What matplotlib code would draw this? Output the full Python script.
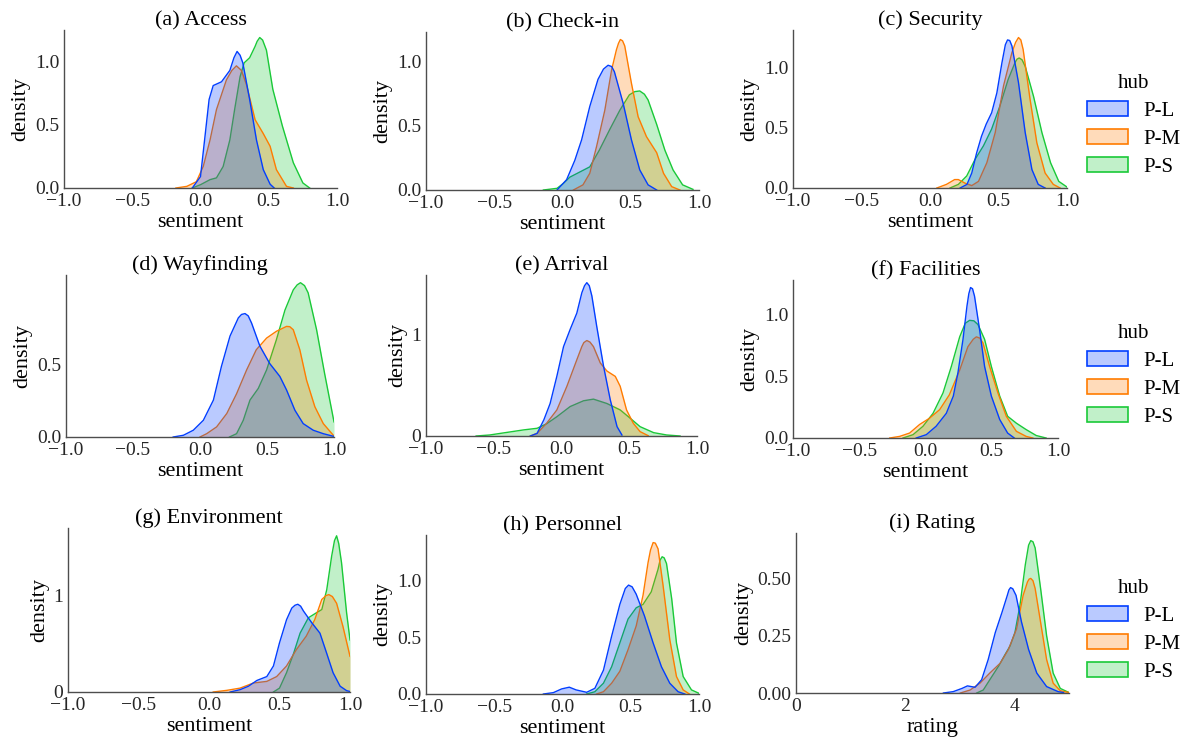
import numpy as np
import matplotlib
matplotlib.use("Agg")
import matplotlib.pyplot as plt
from matplotlib.colors import to_rgba
from matplotlib.patches import Patch

plt.rcParams['font.family'] = ['Liberation Serif', 'DejaVu Serif']
plt.rcParams['font.size'] = 14

####################### data
hubs = ["P-L", "P-M", "P-S"]
colors = ["#023eff", "#ff7c00", "#1ac938"]

titles = ["(a) Access", "(b) Check-in", "(c) Security",
          "(d) Wayfinding", "(e) Arrival", "(f) Facilities",
          "(g) Environment", "(h) Personnel", "(i) Rating"]

# each panel: hub -> (x, density)
access = {
    "P-L": ([-0.06, 0.0, 0.03, 0.063, 0.093, 0.154, 0.215, 0.245, 0.268, 0.29, 0.31, 0.36, 0.41, 0.46, 0.51, 0.54],
            [0.0, 0.09, 0.38, 0.70, 0.81, 0.84, 0.93, 1.03, 1.08, 1.05, 0.99, 0.70, 0.38, 0.145, 0.03, 0.0]),
    "P-M": ([-0.18, -0.10, -0.03, 0.02, 0.07, 0.117, 0.19, 0.23, 0.263, 0.30, 0.337, 0.40, 0.46, 0.51, 0.556, 0.63, 0.68],
            [0.0, 0.013, 0.05, 0.17, 0.38, 0.62, 0.855, 0.93, 0.966, 0.93, 0.816, 0.54, 0.43, 0.33, 0.145, 0.013, 0.0]),
    "P-S": ([-0.06, 0.0, 0.07, 0.117, 0.166, 0.215, 0.25, 0.29, 0.32, 0.36, 0.40, 0.415, 0.434, 0.455, 0.483, 0.53, 0.60, 0.68, 0.75, 0.80],
            [0.0, 0.026, 0.066, 0.08, 0.17, 0.38, 0.62, 0.88, 0.99, 1.03, 1.12, 1.16, 1.19, 1.17, 1.09, 0.78, 0.49, 0.20, 0.04, 0.0]),
}
checkin = {
    "P-L": ([-0.04, 0.03, 0.09, 0.14, 0.20, 0.26, 0.30, 0.334, 0.36, 0.38, 0.444, 0.505, 0.566, 0.627, 0.69],
            [0.0, 0.08, 0.23, 0.39, 0.65, 0.86, 0.94, 0.97, 0.96, 0.92, 0.675, 0.39, 0.156, 0.04, 0.0]),
    "P-M": ([0.08, 0.15, 0.20, 0.25, 0.31, 0.36, 0.395, 0.41, 0.424, 0.44, 0.456, 0.505, 0.554, 0.615, 0.69, 0.74, 0.80, 0.86],
            [0.0, 0.04, 0.13, 0.34, 0.62, 0.935, 1.09, 1.14, 1.17, 1.16, 1.12, 0.83, 0.57, 0.415, 0.29, 0.13, 0.026, 0.0]),
    "P-S": ([-0.14, -0.04, 0.005, 0.054, 0.127, 0.20, 0.27, 0.346, 0.42, 0.49, 0.53, 0.566, 0.60, 0.627, 0.69, 0.75, 0.81, 0.88, 0.956],
            [0.0, 0.013, 0.05, 0.10, 0.14, 0.18, 0.31, 0.47, 0.62, 0.74, 0.765, 0.77, 0.745, 0.70, 0.51, 0.31, 0.156, 0.04, 0.005]),
}
security = {
    "P-L": ([0.22, 0.27, 0.305, 0.34, 0.376, 0.41, 0.45, 0.488, 0.525, 0.55, 0.566, 0.582, 0.598, 0.646, 0.695, 0.744, 0.79, 0.84],
            [0.0, 0.03, 0.125, 0.29, 0.43, 0.53, 0.625, 0.79, 1.04, 1.19, 1.23, 1.225, 1.18, 0.875, 0.46, 0.153, 0.03, 0.0]),
    "P-M": ([0.05, 0.12, 0.18, 0.207, 0.256, 0.305, 0.354, 0.415, 0.476, 0.537, 0.598, 0.625, 0.646, 0.663, 0.68, 0.73, 0.78, 0.84, 0.90, 0.95],
            [0.0, 0.03, 0.07, 0.07, 0.04, 0.02, 0.055, 0.21, 0.46, 0.85, 1.125, 1.21, 1.25, 1.23, 1.15, 0.74, 0.375, 0.125, 0.03, 0.0]),
    "P-S": ([0.146, 0.207, 0.268, 0.33, 0.39, 0.45, 0.51, 0.57, 0.62, 0.635, 0.651, 0.672, 0.695, 0.756, 0.817, 0.88, 0.94, 1.0],
            [0.0, 0.03, 0.10, 0.24, 0.35, 0.49, 0.68, 0.90, 1.04, 1.07, 1.08, 1.065, 1.01, 0.76, 0.46, 0.21, 0.055, 0.008]),
}
wayfinding = {
    "P-L": ([-0.2, -0.124, -0.05, 0.025, 0.10, 0.16, 0.224, 0.286, 0.31, 0.336, 0.36, 0.385, 0.447, 0.52, 0.596, 0.646, 0.708, 0.77, 0.845, 0.92, 0.995],
            [0.0, 0.012, 0.047, 0.116, 0.256, 0.49, 0.70, 0.826, 0.85, 0.856, 0.84, 0.79, 0.63, 0.51, 0.42, 0.326, 0.186, 0.093, 0.047, 0.023, 0.005]),
    "P-M": ([0.0, 0.05, 0.124, 0.2, 0.273, 0.348, 0.42, 0.497, 0.57, 0.646, 0.67, 0.696, 0.745, 0.795, 0.857, 0.92, 0.995],
            [0.0, 0.023, 0.07, 0.163, 0.30, 0.465, 0.605, 0.686, 0.733, 0.767, 0.765, 0.744, 0.605, 0.395, 0.21, 0.093, 0.012]),
    "P-S": ([0.22, 0.273, 0.323, 0.373, 0.435, 0.497, 0.57, 0.634, 0.696, 0.725, 0.75, 0.78, 0.807, 0.87, 0.93, 1.0],
            [0.0, 0.023, 0.116, 0.256, 0.337, 0.465, 0.674, 0.88, 1.02, 1.055, 1.07, 1.05, 1.0, 0.744, 0.44, 0.105]),
}
arrival = {
    "P-L": ([-0.23, -0.18, -0.13, -0.084, -0.034, 0.015, 0.064, 0.113, 0.15, 0.17, 0.187, 0.205, 0.224, 0.26, 0.31, 0.36, 0.41, 0.446],
            [0.0, 0.026, 0.16, 0.32, 0.59, 0.88, 1.05, 1.21, 1.41, 1.48, 1.51, 1.48, 1.38, 1.08, 0.69, 0.356, 0.092, 0.01]),
    "P-M": ([-0.23, -0.18, -0.11, -0.034, 0.04, 0.113, 0.15, 0.165, 0.187, 0.21, 0.236, 0.286, 0.335, 0.397, 0.433, 0.48, 0.53, 0.58, 0.64],
            [0.0, 0.026, 0.125, 0.257, 0.49, 0.75, 0.88, 0.92, 0.94, 0.925, 0.88, 0.72, 0.64, 0.587, 0.49, 0.257, 0.125, 0.043, 0.003]),
    "P-S": ([-0.63, -0.53, -0.40, -0.28, -0.18, -0.11, -0.034, 0.064, 0.163, 0.236, 0.335, 0.433, 0.507, 0.58, 0.68, 0.776, 0.875],
            [0.0, 0.01, 0.036, 0.06, 0.076, 0.12, 0.19, 0.29, 0.347, 0.363, 0.32, 0.257, 0.175, 0.092, 0.033, 0.01, 0.0]),
}
facilities = {
    "P-L": ([-0.07, 0.006, 0.08, 0.157, 0.21, 0.245, 0.283, 0.313, 0.327, 0.34, 0.355, 0.37, 0.408, 0.446, 0.497, 0.56, 0.62, 0.67],
            [0.0, 0.027, 0.095, 0.2, 0.34, 0.53, 0.80, 1.07, 1.17, 1.22, 1.21, 1.15, 0.88, 0.58, 0.34, 0.15, 0.04, 0.0]),
    "P-M": ([-0.27, -0.195, -0.12, -0.044, 0.03, 0.107, 0.18, 0.258, 0.32, 0.36, 0.384, 0.41, 0.434, 0.484, 0.547, 0.61, 0.686, 0.76, 0.81],
            [0.0, 0.013, 0.04, 0.11, 0.16, 0.23, 0.35, 0.55, 0.74, 0.80, 0.82, 0.81, 0.77, 0.58, 0.365, 0.176, 0.054, 0.013, 0.0]),
    "P-S": ([-0.17, -0.094, -0.019, 0.057, 0.132, 0.195, 0.258, 0.30, 0.333, 0.365, 0.396, 0.446, 0.497, 0.56, 0.62, 0.686, 0.76, 0.836, 0.91],
            [0.0, 0.027, 0.095, 0.2, 0.365, 0.58, 0.82, 0.93, 0.954, 0.95, 0.92, 0.80, 0.58, 0.34, 0.176, 0.12, 0.068, 0.02, 0.0]),
}
environment = {
    "P-L": ([0.15, 0.22, 0.28, 0.34, 0.41, 0.457, 0.50, 0.55, 0.587, 0.61, 0.63, 0.65, 0.67, 0.728, 0.787, 0.835, 0.88, 0.93, 0.976, 1.0],
            [0.0, 0.024, 0.06, 0.12, 0.16, 0.27, 0.51, 0.75, 0.87, 0.90, 0.91, 0.89, 0.84, 0.72, 0.61, 0.40, 0.20, 0.06, 0.014, 0.005]),
    "P-M": ([0.03, 0.126, 0.22, 0.315, 0.41, 0.48, 0.55, 0.62, 0.69, 0.75, 0.80, 0.83, 0.85, 0.875, 0.905, 0.95, 1.0],
            [0.0, 0.017, 0.04, 0.093, 0.11, 0.16, 0.27, 0.44, 0.58, 0.75, 0.96, 1.0, 1.01, 0.99, 0.92, 0.68, 0.37]),
    "P-S": ([0.457, 0.50, 0.55, 0.60, 0.646, 0.705, 0.76, 0.80, 0.835, 0.87, 0.89, 0.905, 0.92, 0.94, 0.976, 1.0],
            [0.0, 0.04, 0.2, 0.40, 0.61, 0.77, 0.82, 0.855, 1.06, 1.41, 1.57, 1.62, 1.54, 1.34, 0.82, 0.54]),
}
personnel = {
    "P-L": ([-0.14, -0.067, -0.006, 0.05, 0.10, 0.177, 0.237, 0.30, 0.36, 0.42, 0.46, 0.484, 0.51, 0.54, 0.60, 0.664, 0.725, 0.786, 0.847, 0.896],
            [0.0, 0.012, 0.045, 0.06, 0.036, 0.015, 0.05, 0.21, 0.51, 0.79, 0.93, 0.96, 0.945, 0.88, 0.69, 0.45, 0.24, 0.095, 0.02, 0.0]),
    "P-M": ([0.25, 0.30, 0.36, 0.42, 0.48, 0.54, 0.59, 0.627, 0.645, 0.664, 0.68, 0.70, 0.737, 0.786, 0.835, 0.884, 0.93],
            [0.0, 0.02, 0.095, 0.2, 0.39, 0.60, 0.87, 1.16, 1.27, 1.335, 1.33, 1.28, 0.955, 0.48, 0.154, 0.036, 0.0]),
    "P-S": ([0.177, 0.237, 0.30, 0.36, 0.42, 0.48, 0.54, 0.59, 0.65, 0.70, 0.715, 0.73, 0.745, 0.762, 0.80, 0.835, 0.884, 0.945, 1.0],
            [0.0, 0.02, 0.095, 0.24, 0.45, 0.66, 0.76, 0.79, 0.90, 1.10, 1.18, 1.21, 1.20, 1.15, 0.84, 0.45, 0.154, 0.036, 0.006]),
}
rating = {
    "P-L": ([2.70, 2.88, 3.04, 3.14, 3.28, 3.40, 3.52, 3.65, 3.77, 3.87, 3.90, 3.93, 3.97, 4.03, 4.13, 4.26, 4.41, 4.59, 4.80, 4.90],
            [0.0, 0.006, 0.02, 0.031, 0.025, 0.058, 0.146, 0.264, 0.35, 0.426, 0.45, 0.46, 0.455, 0.426, 0.31, 0.19, 0.087, 0.028, 0.006, 0.002]),
    "P-M": ([3.01, 3.19, 3.37, 3.55, 3.74, 3.89, 4.04, 4.16, 4.24, 4.27, 4.30, 4.34, 4.38, 4.47, 4.59, 4.71, 4.84, 5.0],
            [0.0, 0.013, 0.043, 0.087, 0.13, 0.19, 0.28, 0.426, 0.485, 0.497, 0.50, 0.49, 0.456, 0.323, 0.146, 0.043, 0.01, 0.002]),
    "P-S": ([3.31, 3.43, 3.55, 3.71, 3.83, 3.92, 4.01, 4.10, 4.20, 4.26, 4.30, 4.34, 4.38, 4.48, 4.59, 4.71, 4.84, 5.0],
            [0.0, 0.013, 0.058, 0.117, 0.168, 0.205, 0.264, 0.38, 0.56, 0.645, 0.665, 0.66, 0.633, 0.456, 0.25, 0.087, 0.02, 0.002]),
}
panels = [access, checkin, security, wayfinding, arrival, facilities, environment, personnel, rating]

sent_ticks = [-1.0, -0.5, 0.0, 0.5, 1.0]
rating_ticks = [0, 2, 4]
yticks = [[0, 0.5, 1.0], [0, 0.5, 1.0], [0, 0.5, 1.0],
          [0, 0.5], [0, 1], [0, 0.5, 1.0],
          [0, 1], [0, 0.5, 1.0], [0, 0.25, 0.5]]

####################### layout (pixels: left, right, bottom from top)
W, H = 1192, 746
boxes = [(64, 337, 188), (426, 699, 190), (793, 1067, 188),
         (66, 334, 437), (426, 697, 436), (793, 1058, 438),
         (68, 350, 692), (426, 699, 694), (796, 1069, 693)]
tops = [30, 32, 30, 275, 275, 280, 528, 535, 533]

fig = plt.figure(figsize=(W / 100, H / 100), dpi=100)

for i, data in enumerate(panels):
    l, r, b = boxes[i]
    t = tops[i]
    ax = fig.add_axes([l / W, 1 - b / H, (r - l) / W, (b - t) / H])

    # seaborn-like draw order: last hue first
    for k in [2, 1, 0]:
        x, y = data[hubs[k]]
        z = 1 + (2 - k) * 0.1
        ax.fill_between(x, y, color=to_rgba(colors[k], 0.27), linewidth=0, zorder=z)
        ax.plot(x, y, color=colors[k], linewidth=1.0, zorder=z + 0.05)

    if i == 8:
        ax.set_xlim(0, 5)
        ax.set_xticks(rating_ticks)
        ax.set_xlabel("rating", labelpad=2, fontsize=16)
    else:
        ax.set_xlim(-1, 1)
        ax.set_xticks(sent_ticks)
        ax.set_xlabel("sentiment", labelpad=2, fontsize=16)
    ax.set_ylim(bottom=0)
    ax.set_yticks(yticks[i])
    ax.set_ylabel("density", labelpad=3, fontsize=16)
    ax.set_title(titles[i], pad=0, fontsize=16)

    for s in ["top", "right"]:
        ax.spines[s].set_visible(False)
    for s in ["left", "bottom"]:
        ax.spines[s].set_color("0.3")
        ax.spines[s].set_linewidth(1.0)
    ax.tick_params(length=0, pad=3.5, colors="0.15", labelsize=14)

# legends on the right of each row
handles = [Patch(facecolor=to_rgba(c, 0.27), edgecolor=c, linewidth=1.2) for c in colors]
for yc in [0.832, 0.497, 0.155]:
    fig.legend(handles, hubs, title="hub", loc="center left",
               bbox_to_anchor=(0.896, yc), frameon=False,
               handlelength=2.0, handleheight=0.7, handletextpad=0.7,
               labelspacing=0.4, fontsize=15, title_fontsize=15)

fig.savefig("out.png", dpi=100)
